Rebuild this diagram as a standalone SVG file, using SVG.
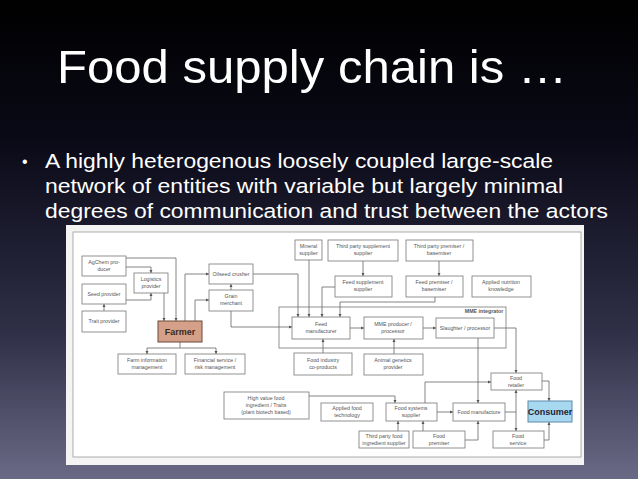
<svg xmlns="http://www.w3.org/2000/svg" width="638" height="479" viewBox="0 0 638 479">
<defs>
<linearGradient id="bg" x1="0" y1="0" x2="0" y2="1">
<stop offset="0" stop-color="#000000"/><stop offset="0.3" stop-color="#0a0a18"/><stop offset="0.7" stop-color="#303048"/><stop offset="1" stop-color="#6a6a86"/>
</linearGradient>
<marker id="a" viewBox="0 0 6 6" refX="6" refY="3" markerWidth="4" markerHeight="4" orient="auto"><path d="M0,0L6,3L0,6z" fill="#555"/></marker>
<style>
.b{fill:#fff;stroke:#777;stroke-width:0.8}
.t{font-family:"Liberation Sans Narrow","Liberation Sans",sans-serif;font-size:5.3px;fill:#555;text-anchor:middle}
.c path{fill:none;stroke:#666;stroke-width:0.8;marker-end:url(#a)}
.w{font-family:"Liberation Sans",Arial,sans-serif;fill:#fff}
</style>
</defs>
<rect width="638" height="479" fill="url(#bg)"/>
<text class="w" x="57" y="83" font-size="47" textLength="510" lengthAdjust="spacingAndGlyphs">Food supply chain is …</text>
<g class="w" font-size="20.5">
<text x="22" y="167" font-size="16">•</text>
<text x="45" y="168" textLength="508" lengthAdjust="spacingAndGlyphs">A highly heterogenous loosely coupled large-scale</text>
<text x="45" y="193" textLength="518" lengthAdjust="spacingAndGlyphs">network of entities with variable but largely minimal</text>
<text x="45" y="218" textLength="563" lengthAdjust="spacingAndGlyphs">degrees of communication and trust between the actors</text>
</g>
<rect x="66" y="225" width="518" height="240" fill="#f4f4f4"/>
<rect x="73" y="232" width="508" height="225" fill="#fff" stroke="#999" stroke-width="0.8"/>
<rect x="279" y="307" width="227" height="41" fill="none" stroke="#777" stroke-width="0.8"/>
<text x="484" y="313" class="t" font-weight="bold" fill="#444">MME integrator</text>
<g class="c">
<path d="M126,258H176V321"/>
<path d="M126,267H151V273"/>
<path d="M126,300H151V293"/>
<path d="M104,311V304"/>
<path d="M164,293V321"/>
<path d="M185,321V274H209"/>
<path d="M195,321V300H209"/>
<path d="M231,290V284"/>
<path d="M253,274H298V317"/>
<path d="M231,311V327H292"/>
<path d="M309,260V317"/>
<path d="M335,287H322V317"/>
<path d="M435,297V302H340V317"/>
<path d="M363,261V276"/>
<path d="M439,261V276"/>
<path d="M350,328H364"/>
<path d="M423,328H436"/>
<path d="M323,353V339"/>
<path d="M394,354V339"/>
<path d="M180,342V348H147V354"/>
<path d="M180,348H216V354"/>
<path d="M494,328H516V373"/>
<path d="M478,338V403"/>
<path d="M425,403V382H491"/>
<path d="M437,412H453"/>
<path d="M505,412H516V390"/>
<path d="M516,412V431"/>
<path d="M542,381H549V401"/>
<path d="M544,440H549V422"/>
<path d="M309,396H395V403"/>
<path d="M398,431V421"/>
<path d="M423,431V421"/>
<path d="M465,440H478V421"/>
</g>
<g id="agchem"><rect class="b" x="82" y="256" width="44" height="20"/><text class="t" x="104" y="264">AgChem pro-</text><text class="t" x="104" y="271">ducer</text></g>
<g id="logistics"><rect class="b" x="134" y="273" width="34" height="20"/><text class="t" x="151" y="281">Logistics</text><text class="t" x="151" y="288">provider</text></g>
<g id="seed"><rect class="b" x="82" y="284" width="44" height="20"/><text class="t" x="104" y="296">Seed provider</text></g>
<g id="trait"><rect class="b" x="82" y="311" width="44" height="21"/><text class="t" x="104" y="323">Trait provider</text></g>
<g id="farmer"><rect x="158" y="321" width="44" height="21" fill="#d4a088" stroke="#6a4a3a" stroke-width="1"/><text x="180" y="335" font-family="Liberation Sans,sans-serif" font-size="9" font-weight="bold" fill="#3a2a20" text-anchor="middle">Farmer</text></g>
<g id="oilseed"><rect class="b" x="209" y="264" width="44" height="20"/><text class="t" x="231" y="276">Oilseed crusher</text></g>
<g id="grain"><rect class="b" x="209" y="290" width="44" height="21"/><text class="t" x="231" y="298">Grain</text><text class="t" x="231" y="305">merchant</text></g>
<g id="mineral"><rect class="b" x="295" y="240" width="27" height="20"/><text class="t" x="308.5" y="248">Mineral</text><text class="t" x="308.5" y="255">supplier</text></g>
<g id="tpsupp"><rect class="b" x="328" y="240" width="70" height="21"/><text class="t" x="363" y="248">Third party supplement</text><text class="t" x="363" y="255">supplier</text></g>
<g id="tpprem"><rect class="b" x="406" y="240" width="67" height="21"/><text class="t" x="439" y="248">Third party premiser /</text><text class="t" x="439" y="255">basemiser</text></g>
<g id="feedsupp"><rect class="b" x="335" y="276" width="57" height="21"/><text class="t" x="363" y="284">Feed supplement</text><text class="t" x="363" y="291">supplier</text></g>
<g id="feedprem"><rect class="b" x="406" y="276" width="57" height="21"/><text class="t" x="434" y="284">Feed premiser /</text><text class="t" x="434" y="291">basemiser</text></g>
<g id="nutrition"><rect class="b" x="472" y="276" width="59" height="21"/><text class="t" x="501" y="284">Applied nutrition</text><text class="t" x="501" y="291">knowledge</text></g>
<g id="feedman"><rect class="b" x="292" y="317" width="58" height="22"/><text class="t" x="321" y="326">Feed</text><text class="t" x="321" y="333">manufacturer</text></g>
<g id="mme"><rect class="b" x="364" y="317" width="59" height="22"/><text class="t" x="393" y="326">MME producer /</text><text class="t" x="393" y="333">processor</text></g>
<g id="slaughter"><rect class="b" x="436" y="318" width="58" height="20"/><text class="t" x="465" y="330">Slaughter / processor</text></g>
<g id="foodind"><rect class="b" x="294" y="353" width="58" height="22"/><text class="t" x="323" y="362">Food industry</text><text class="t" x="323" y="369">co-products</text></g>
<g id="genetics"><rect class="b" x="364" y="354" width="59" height="21"/><text class="t" x="393" y="362">Animal genetics</text><text class="t" x="393" y="369">provider</text></g>
<g id="farminfo"><rect class="b" x="118" y="354" width="58" height="20"/><text class="t" x="147" y="362">Farm information</text><text class="t" x="147" y="369">management</text></g>
<g id="financial"><rect class="b" x="185" y="354" width="60" height="20"/><text class="t" x="215" y="362">Financial service /</text><text class="t" x="215" y="369">risk management</text></g>
<g id="highvalue"><rect class="b" x="224" y="392" width="85" height="27"/><text class="t" x="266" y="400">High value food</text><text class="t" x="266" y="407">ingredient / Traits</text><text class="t" x="266" y="414">(plant biotech based)</text></g>
<g id="appliedfood"><rect class="b" x="321" y="403" width="52" height="18"/><text class="t" x="347" y="410">Applied food</text><text class="t" x="347" y="417">technology</text></g>
<g id="foodsys"><rect class="b" x="386" y="403" width="51" height="18"/><text class="t" x="411" y="410">Food systems</text><text class="t" x="411" y="417">supplier</text></g>
<g id="foodmanuf"><rect class="b" x="453" y="403" width="52" height="18"/><text class="t" x="479" y="414">Food manufacture</text></g>
<g id="retailer"><rect class="b" x="491" y="373" width="51" height="17"/><text class="t" x="516" y="380">Food</text><text class="t" x="516" y="387">retailer</text></g>
<g id="consumer"><rect x="528" y="401" width="44" height="21" fill="#a8d8f0" stroke="#5a8aa8" stroke-width="1"/><text x="550" y="415" font-family="Liberation Sans,sans-serif" font-size="9" font-weight="bold" fill="#223" text-anchor="middle">Consumer</text></g>
<g id="service"><rect class="b" x="493" y="431" width="51" height="17"/><text class="t" x="518" y="438">Food</text><text class="t" x="518" y="445">service</text></g>
<g id="tpfood"><rect class="b" x="359" y="431" width="50" height="17"/><text class="t" x="384" y="438">Third party food</text><text class="t" x="384" y="445">ingredient supplier</text></g>
<g id="foodprem"><rect class="b" x="413" y="431" width="52" height="17"/><text class="t" x="439" y="438">Food</text><text class="t" x="439" y="445">premiser</text></g>
</svg>
